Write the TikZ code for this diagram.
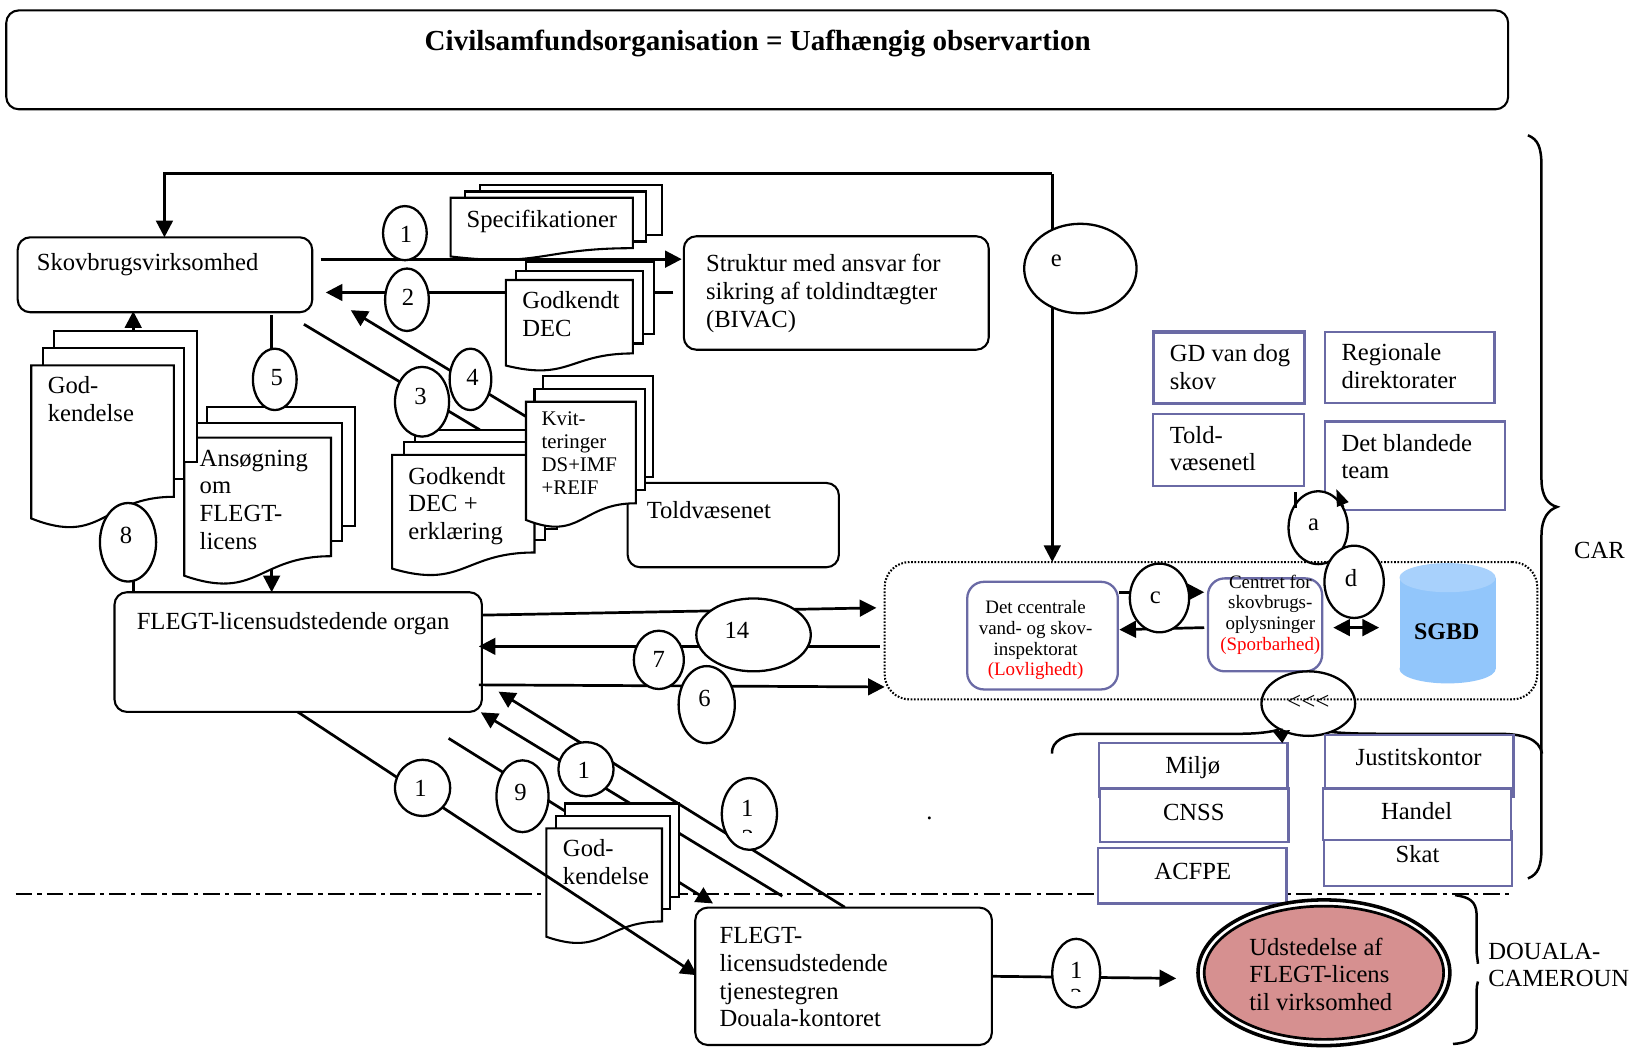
\documentclass[tikz,border=0pt]{standalone}
\usepackage{fontspec}
\setmainfont{Liberation Serif}
\usetikzlibrary{arrows.meta,shapes.geometric}
\newcommand\fa{\fontsize{11.83}{13.25}\selectfont}
\newcommand\fb{\fontsize{10}{11}\selectfont}
\newcommand\fc{\fontsize{9.1}{10}\selectfont}
\definecolor{bl}{HTML}{6A6AA5}
\definecolor{cylb}{RGB}{146,198,251}
\definecolor{cylt}{RGB}{168,209,252}
\definecolor{rosy}{RGB}{214,144,144}
\tikzset{
 x=0.5pt,y=-0.5pt,
 ln/.style={line width=1.3pt,black},
 arr/.style={ln,-{Triangle[length=8pt,width=8pt]}},
 dbl/.style={ln,{Triangle[length=8pt,width=8pt]}-{Triangle[length=8pt,width=8pt]}},
 rbox/.style={draw,fill=white,line width=1pt,rounded corners=6pt,inner sep=0pt,outer sep=0pt},
 sbox/.style={draw=bl,fill=white,line width=1.1pt,inner sep=0pt,outer sep=0pt},
 ibox/.style={draw=bl,fill=white,line width=1.1pt,rounded corners=8pt,inner sep=0pt,outer sep=0pt},
 ell/.style={draw,ellipse,fill=white,line width=1.1pt,inner sep=0pt,outer sep=0pt},
 pg/.style={draw,fill=white,line width=1pt},
 lab/.style={font=\fa,inner sep=0pt,align=left,anchor=west},
 num/.style={font=\fa,inner sep=0pt},
 brc/.style={draw,line width=1.2pt},
}
% name x1 y1 x2 y2 with style
\newcommand\bx[6]{\node[#1,anchor=north west,minimum width={(#5-#3)*0.5pt},minimum height={(#6-#4)*0.5pt}] (#2) at (#3,#4) {};}
% name cx cy rx ry tx ty text
\newcommand\el[8]{\node[ell,minimum width=#4pt,minimum height=#5pt] (#1) at (#2,#3) {};\node[num] (#1t) at (#6,#7) {#8};}
% document page L T R H
\newcommand\dc[4]{\path[pg] (#1,#2) -- (#3,#2) -- (#3,{#2+0.802*#4}) .. controls ({(#1+#3)/2},{#2+0.802*#4}) and ({(#1+#3)/2},{#2+1.107*#4}) .. (#1,{#2+0.934*#4}) -- cycle;}
\newcommand\pgr[4]{\path[pg] (#1,#2) rectangle (#3,#4);}
\begin{document}
\begin{tikzpicture}
\useasboundingbox (0,0) rectangle (1568,1006);
\fill[white] (0,0) rectangle (1568,1006);
% title
\bx{rbox}{title}{6}{10}{1449}{105}
\node[font=\fontsize{13.95}{16}\selectfont\bfseries,inner sep=0pt] (titlet) at (728,42) {Civilsamfundsorganisation = Uafhængig observartion};
% separator
\coordinate (sepa) at (15,858.5); \coordinate (sepb) at (1452,858.5);
\draw[line width=1pt,dash pattern=on 8pt off 2.5pt on 2pt off 2.5pt] (sepa) -- (sepb);
% lines behind everything
\coordinate (topc) at (1011,167); \coordinate (topd) at (158,167);
\bx{rbox}{skov}{17}{228}{300}{300}
\bx{rbox}{bivac}{657}{227}{950}{336}
\bx{rbox}{told}{603}{464}{806}{545}
\draw[arr] (topc) -- (topd) -- (skov.north -| topd);
\draw[arr] (topc) -- (1011,540);
\coordinate (l2a) at (647,281); \coordinate (l2b) at (313,281);
\draw[arr] (l2a) -- (l2b);
\coordinate (l3a) at (292,311.6); \coordinate (l3b) at (461,413);
\draw[ln] (l3a) -- (l3b);
\coordinate (l4a) at (505,400); \coordinate (l4b) at (337,298);
\draw[arr] (l4a) -- (l4b);
\coordinate (l5a) at (261,303); \coordinate (l5b) at (261,560);
\draw[ln] (l5a) -- (l5b);
\coordinate (l8a) at (128,569); \coordinate (l8b) at (128,299);
\draw[arr] (l8a) -- (l8b);
% Specifikationer
\pgr{461}{178}{636}{226}\pgr{447}{184}{621}{232}\dc{433}{190}{608}{60.4}
\node[lab] (spec) at (448,213) {Specifikationer};
% Godkendt DEC
\pgr{505}{252}{628}{321}\pgr{496}{260}{618}{330}\dc{486}{269}{608}{88}
\node[lab] (gdec) at (501.5,302) {Godkendt\\DEC};
% Ansogning
\pgr{198.6}{391}{341}{505.5}\pgr{188}{406}{328.6}{520}\dc{177}{420.5}{318}{142}
\node[lab] (ans) at (191.5,480) {Ansøgning\\om\\FLEGT-\\licens};
% Godkendelse
\pgr{52}{318.4}{189}{444}\pgr{41.6}{334}{177}{460}\dc{30}{351}{167}{157.5}
\node[lab] (god) at (45.5,383.5) {God-\\kendelse};
% Godkendt DEC + erklaering
\pgr{399}{413}{535}{508}\pgr{388}{425}{524}{519}\dc{376.7}{437}{513.5}{117}
\node[lab] (gerk) at (392,486) {Godkendt\\DEC +\\erklæring};
% Kvit
\pgr{522}{361}{627.6}{458.6}\pgr{513.5}{373.5}{619.5}{471}\dc{505.4}{386}{611}{121.6}
\node[lab,font=\fb] (kvit) at (520,435.5) {Kvit-\\teringer\\DS+IMF\\+REIF};
% arrows on top
\coordinate (l5c) at (261,553); \coordinate (l5d) at (261,569);
\draw[arr] (l5c) -- (l5d);
\coordinate (l1a) at (308,249); \coordinate (l1b) at (655,249);
\draw[arr] (l1a) -- (l1b);
% box labels
\node[lab] (skovt) at (35,254) {Skovbrugsvirksomhed};
\node[lab] (bivact) at (678,282) {Struktur med ansvar for\\sikring af toldindtægter\\(BIVAC)};
\node[lab] (toldt) at (621,490) {Toldvæsenet};
% ellipses top-left
\el{e1}{389}{224}{21}{26}{390}{225}{1}
\el{e2}{391}{288}{21}{30}{392}{286}{2}
\el{e3}{405.5}{386}{26}{33.5}{404}{381}{3}
\el{e4}{452}{364.5}{20}{29.5}{454}{363}{4}
\el{e5}{264}{364.5}{21}{29.5}{266}{363}{5}
\el{e8}{123}{521}{27}{37.7}{121}{514}{8}
\el{ee}{1038}{258}{54}{43}{1015}{251}{e}
% FLEGT organ
\bx{rbox}{organ}{110}{569}{463}{684}
\node[lab] (organt) at (131,599) {FLEGT-licensudstedende organ};
\coordinate (a14a) at (463,591); \coordinate (a14b) at (842,584);
\coordinate (a7a) at (845,621); \coordinate (a7b) at (460,621);
\coordinate (a6a) at (460,658); \coordinate (a6b) at (850,660);
\draw[arr] (a14a) -- (a14b);
\draw[arr] (a7a) -- (a7b);
\draw[arr] (a6a) -- (a6b);
\el{e14}{724}{610}{55}{35}{708}{606}{14}
\el{e7}{633}{634}{24}{28}{633}{634}{7}
\el{e6}{679}{677}{27}{37}{677}{671}{6}
% upper right blue boxes
\node[sbox,line width=1.5pt,anchor=north west,minimum width=72.5pt,minimum height=34.5pt] (gd) at (1108,319) {};
\bx{sbox}{reg}{1273}{319}{1436}{387}
\bx{sbox}{tv}{1108}{398}{1253}{467}
\bx{sbox}{bland}{1273}{405}{1446}{490}
\node[lab] (gdt) at (1123.5,352.5) {GD van dog\\skov};
\node[lab] (regt) at (1288.5,351.5) {Regionale\\direktorater};
\node[lab] (tvt) at (1123.5,431) {Told-\\væsenetl};
\node[lab] (blandt) at (1288.5,438.5) {Det blandede\\team};
% a
\el{ea}{1266.5}{507}{28.5}{35}{1262}{504}{a}
\coordinate (tka) at (1245,473); \coordinate (tkb) at (1245,488);
\draw[ln] (tka) -- (tkb);
\coordinate (aha) at (1291,487); \coordinate (ahb) at (1284,470);
\draw[line width=0.6pt,-{Triangle[length=8pt,width=6pt]}] (aha) -- (ahb);
% lower brace
\path[brc] (1010.7,724) .. controls (1010,712) and (1023,705) .. (1042,705) -- (1190,705) .. controls (1210,705) and (1222,703) .. (1228.6,701);
\path[brc] (1276.5,703) .. controls (1295,705) and (1315,705) .. (1340,705) -- (1439,705) .. controls (1464,705) and (1479,710) .. (1481.6,724);
% right big brace
\path[brc] (1468,130) .. controls (1478,134) and (1481,142) .. (1481,160) -- (1481,460) .. controls (1481,478) and (1488,485) .. (1496,487) .. controls (1488,490) and (1481,497) .. (1481,515) -- (1481,815) .. controls (1481,832) and (1478,840) .. (1468,844);
\node[lab] (cart) at (1512,529) {CAR};
% inner boxes
\bx{ibox}{insp}{929.3}{559}{1074}{662.4}
\bx{ibox}{cent}{1160.6}{555.7}{1270.3}{645}
\node[font=\fc,inner sep=0pt,align=center] (inspt) at (995,615) {Det ccentrale\\vand- og skov-\\inspektorat\\\textcolor{red}{(Lovlighedt)}};
\node[font=\fc,inner sep=0pt,align=center] (centt) at (1220.5,590.5) {Centret for\\skovbrugs-\\oplysninger\\\textcolor{red}{(Sporbarhed)}};
% <<< ellipse
\node[ell,minimum width=45pt,minimum height=31pt] (elt) at (1257,676) {};
% dotted frame
\node[draw,line width=1pt,dash pattern=on 0.8pt off 0.8pt,rounded corners=12pt,inner sep=0pt,outer sep=0pt,anchor=north west,minimum width=313.5pt,minimum height=66pt] (frame) at (850,540) {};
\node[font=\fontsize{12}{13}\selectfont,inner sep=0pt] (eltt) at (1257,675) {<\kern0pt<\kern0pt<};
% c
\coordinate (car) at (1075.4,569); \coordinate (cbr) at (1157,569);
\draw[arr] (car) -- (cbr);
\coordinate (cal) at (1157,603); \coordinate (cbl) at (1075.4,605);
\draw[arr] (cal) -- (cbl);
\el{ec}{1114}{574.5}{28.5}{33}{1110}{574}{c}
\el{ed}{1301}{559}{28.5}{34.7}{1298}{555}{d}
\coordinate (dda) at (1281,603); \coordinate (ddb) at (1325,603);
\draw[dbl] (dda) -- (ddb);
% SGBD cylinder
\fill[cylb] (1344.6,555) rectangle (1437,642.6);
\fill[cylb] (1390.8,642.6) ellipse [x radius=23.1pt,y radius=7pt];
\fill[cylt] (1390.8,555) ellipse [x radius=23.1pt,y radius=7pt];
\node[font=\fontsize{11.5}{13}\selectfont\bfseries,inner sep=0pt] (sgbd) at (1390,607) {SGBD};
% lower boxes
\bx{sbox}{milj}{1056}{713.6}{1237}{765.5}
\bx{sbox}{cnss}{1057}{757.5}{1238}{808.7}
\bx{sbox}{acfpe}{1055}{814.5}{1236}{868}
\bx{sbox}{just}{1273}{706}{1454}{765.5}
\bx{sbox}{skat}{1272}{799}{1452.5}{851}
\bx{sbox}{hand}{1271}{757.5}{1452}{807}
\node[num] (miljt) at (1146,737) {Miljø};
\node[num] (cnsst) at (1147,781) {CNSS};
\node[num] (acfpet) at (1146,837) {ACFPE};
\node[num] (justt) at (1363,727) {Justitskontor};
\node[num] (handt) at (1361,779) {Handel};
\node[num] (skatt) at (1362,820.5) {Skat};
\coordinate (mda) at (1231,700); \coordinate (mdb) at (1232,714);
\draw[ln,-{Triangle[length=6pt,width=8pt]}] (mda) -- (mdb);
% bottom connectors
\coordinate (d1a) at (286,684); \coordinate (d1b) at (670,937);
\coordinate (d2a) at (431,709.4); \coordinate (d2b) at (685,868);
\coordinate (d3a) at (751.6,861); \coordinate (d3b) at (462,684.4);
\coordinate (d4a) at (811.7,871.7); \coordinate (d4b) at (479,664.5);
\draw[arr] (d2a) -- (d2b);
\draw[arr] (d3a) -- (d3b);
\pgr{542.7}{772}{652}{862}\pgr{534}{784}{643.5}{873.7}\dc{525}{795.8}{636}{111.6}
\node[lab] (god2) at (540.5,828) {God-\\kendelse};
\draw[arr] (d1a) -- (d1b);
\draw[arr] (d4a) -- (d4b);
\el{eb1}{406}{757}{26.5}{27}{404}{757}{1}
\el{e9}{502}{765}{25}{34.5}{500}{761}{9}
\el{eb2}{563}{739}{26.5}{26}{561}{740}{1}
\el{eb3}{720}{782}{26.5}{34.5}{718}{777}{1}
\begin{scope}\clip (700,790) rectangle (740,800);\node[num] (eb3x) at (718.5,805) {2};\end{scope}
\node[font=\fa,inner sep=0pt] (dott) at (893,786) {.};
% tjenestegren
\bx{rbox}{tjen}{668}{872}{953}{1004}
\node[lab] (tjent) at (691,939) {FLEGT-\\licensudstedende\\tjenestegren\\Douala-kontoret};
% Udstedelse
\coordinate (ua) at (953,938); \coordinate (ub) at (1130,940);
\draw[arr] (ua) -- (ub);
\el{eb4}{1034}{935}{23}{33}{1034}{932}{1}
\begin{scope}\clip (1020,940) rectangle (1050,953);\node[num] (eb4x) at (1034,958) {2};\end{scope}
\node[ell,line width=1.7pt,minimum width=121pt,minimum height=70pt] (udo) at (1272,934.6) {};
\node[ell,line width=1.3pt,fill=rosy,minimum width=115pt,minimum height=64pt] (udi) at (1272,934.6) {};
\node[font=\fa,inner sep=0pt,align=left] (udt) at (1269,936) {Udstedelse af\\FLEGT-licens\\til virksomhed};
% Douala brace
\path[brc] (1398,860) .. controls (1412,862) and (1418,866) .. (1418.7,878) -- (1418.7,915) .. controls (1419,920) and (1420,923) .. (1420,926);
\path[brc] (1420,943) .. controls (1419,946) and (1418.7,948) .. (1418.7,955) -- (1418.7,988) .. controls (1418,997) and (1412,1002) .. (1396,1003);
\node[lab] (dout) at (1429.5,927) {DOUALA-\\CAMEROUN};
\end{tikzpicture}
\end{document}
